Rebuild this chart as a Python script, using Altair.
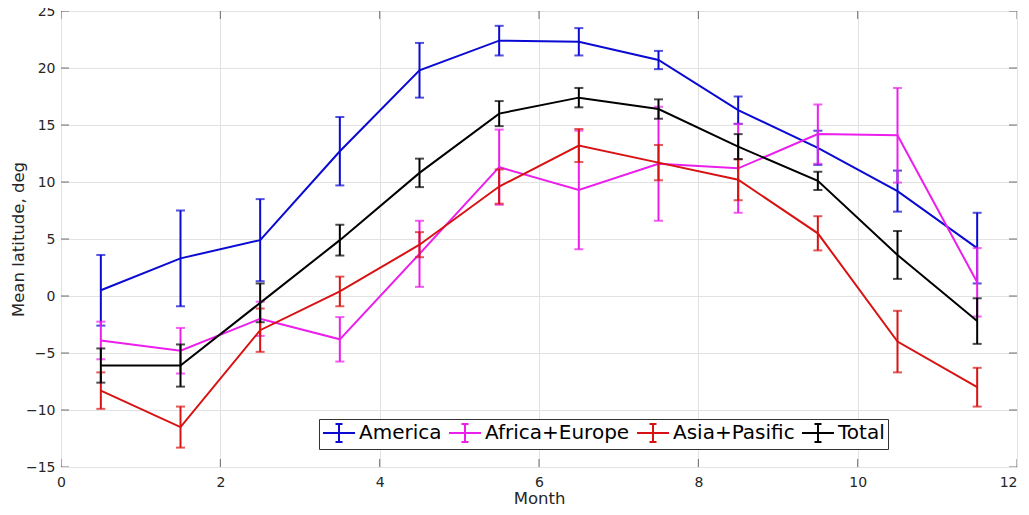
import altair as alt
import pandas as pd

months = [0.5, 1.5, 2.5, 3.5, 4.5, 5.5, 6.5, 7.5, 8.5, 9.5, 10.5, 11.5]
series_names = ["America", "Africa+Europe", "Asia+Pasific", "Total"]
series_colors = ["#0a0ad2", "#ec1eec", "#d81212", "#000000"]

america = [0.5, 3.3, 4.9, 12.7, 19.8, 22.4, 22.3, 20.7, 16.3, 13.0, 9.2, 4.2]
america_err = [3.1, 4.2, 3.6, 3.0, 2.4, 1.3, 1.2, 0.8, 1.2, 1.5, 1.8, 3.1]
africa = [-3.9, -4.8, -2.0, -3.8, 3.7, 11.3, 9.3, 11.6, 11.2, 14.2, 14.1, 1.2]
africa_err = [1.65, 2.0, 1.5, 1.95, 2.9, 3.3, 5.2, 5.0, 3.9, 2.6, 4.15, 3.0]
asia = [-8.3, -11.5, -3.0, 0.4, 4.5, 9.6, 13.2, 11.7, 10.2, 5.5, -4.0, -8.0]
asia_err = [1.6, 1.8, 1.9, 1.3, 1.1, 1.5, 1.45, 1.55, 1.8, 1.5, 2.7, 1.7]
total = [-6.1, -6.1, -0.6, 4.9, 10.8, 16.0, 17.4, 16.4, 13.1, 10.1, 3.6, -2.2]
total_err = [1.5, 1.85, 1.7, 1.35, 1.25, 1.1, 0.85, 0.85, 1.1, 0.8, 2.1, 2.0]

x_ticks = [0, 2, 4, 6, 8, 10, 12]
y_ticks = [-15, -10, -5, 0, 5, 10, 15, 20, 25]

values = [america, africa, asia, total]
errors = [america_err, africa_err, asia_err, total_err]

rows = []
for name, vals, errs in zip(series_names, values, errors):
    for m, v, e in zip(months, vals, errs):
        rows.append({"series": name, "month": m, "value": v, "lo": v - e, "hi": v + e})
df = pd.DataFrame(rows)

FONT = "DejaVu Sans"
TXT = "#262626"

xscale = alt.Scale(domain=[0, 12], nice=False, zero=False)
yscale = alt.Scale(domain=[-15, 25], nice=False, zero=False)

xaxis = alt.Axis(values=x_ticks, format="d", title="Month", grid=True, domain=False, ticks=False,
                 tickSize=0, labelPadding=8, labelFontSize=14,
                 labelAlign={"condition": {"test": "datum.value >= 12", "value": "right"},
                             "value": "center"},
                 titleFontSize=16.5, labelColor=TXT, titleColor=TXT, titleFontWeight="normal",
                 titleX=478, titleY=36, titleBaseline="alphabetic", titleAlign="center",
                 gridColor="#e2e2e2", labelFont=FONT, titleFont=FONT, labelFlush=False)
yaxis = alt.Axis(values=y_ticks, format="d", title="Mean latitude, deg", grid=True, domain=False,
                 ticks=False, tickSize=0, labelPadding=6, labelFontSize=14,
                 titleFontSize=16.5, labelColor=TXT, titleColor=TXT, titleFontWeight="normal",
                 titleX=-38, titleY=228, titleAngle=-90, titleBaseline="alphabetic",
                 titleAlign="center",
                 gridColor="#e2e2e2", labelFont=FONT, titleFont=FONT, labelFlush=False)

legend = alt.Legend(
    title=None, orient="none", legendX=258, legendY=408, direction="horizontal",
    symbolType="M-1.6,0H1.6M0,-0.9V0.9M-0.35,-0.9H0.35M-0.35,0.9H0.35",
    symbolSize=400, symbolStrokeWidth=2, symbolFillColor="transparent", symbolOffset=6,
    labelFontSize=20, labelFont=FONT, labelColor="#000000", labelOffset=9,
    columnPadding=3, padding=3, strokeColor="#333333", fillColor="#ffffff",
    labelLimit=0, rowPadding=0,
)
color = alt.Color("series:N", scale=alt.Scale(domain=series_names, range=series_colors),
                  legend=legend, sort=series_names)

base = alt.Chart(df)
layers = []

# inside ticks on all four sides (clipped to the plot area)
xt = pd.DataFrame({"t": x_ticks})
yt = pd.DataFrame({"t": y_ticks})
layers.append(alt.Chart(xt).mark_tick(orient="vertical", size=16, thickness=1, color="#333333", clip=True)
              .encode(x=alt.X("t:Q", scale=xscale, axis=xaxis), y=alt.datum(-15, scale=yscale)))
layers.append(alt.Chart(xt).mark_tick(orient="vertical", size=16, thickness=1, color="#333333", clip=True)
              .encode(x=alt.X("t:Q", scale=xscale), y=alt.datum(25)))
layers.append(alt.Chart(yt).mark_tick(orient="horizontal", size=16, thickness=1, color="#333333", clip=True)
              .encode(y=alt.Y("t:Q", scale=yscale, axis=yaxis), x=alt.datum(0)))
layers.append(alt.Chart(yt).mark_tick(orient="horizontal", size=16, thickness=1, color="#333333", clip=True)
              .encode(y=alt.Y("t:Q", scale=yscale), x=alt.datum(12)))

for name, col in zip(series_names, series_colors):
    b = base.transform_filter(alt.datum.series == name)
    layers.append(b.mark_line(strokeWidth=2).encode(
        x=alt.X("month:Q", scale=xscale, axis=xaxis),
        y=alt.Y("value:Q", scale=yscale, axis=yaxis),
        color=color))
    layers.append(b.mark_rule(strokeWidth=2, color=col).encode(
        x="month:Q", y="lo:Q", y2="hi:Q"))
    layers.append(b.mark_tick(orient="horizontal", size=9, thickness=2, color=col).encode(
        x="month:Q", y="lo:Q"))
    layers.append(b.mark_tick(orient="horizontal", size=9, thickness=2, color=col).encode(
        x="month:Q", y="hi:Q"))

chart = alt.layer(*layers).properties(
    width=956, height=456,
    autosize=alt.AutoSizeParams(type="none"),
    padding={"left": 53, "top": 3, "right": 4, "bottom": 40},
).configure_view(stroke="#333333", strokeWidth=1).configure(background="white")

chart.save("out.html", embed_options={"renderer": "svg", "actions": False})
